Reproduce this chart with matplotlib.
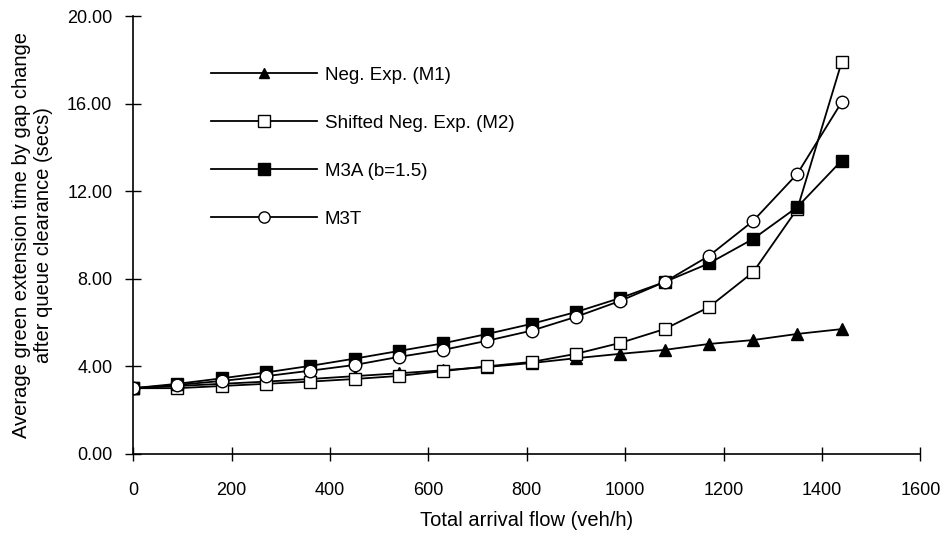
import numpy as np
import matplotlib
matplotlib.use("Agg")
import matplotlib.pyplot as plt
from matplotlib.ticker import FormatStrFormatter

plt.rcParams['font.family'] = ['Liberation Sans', 'DejaVu Sans']

# arrival flow (veh/h)
flow = [0, 90, 180, 270, 360, 450, 540, 630, 720, 810, 900, 990, 1080, 1170, 1260, 1350, 1440]

m1 = [3.0, 3.1, 3.2, 3.3, 3.42, 3.55, 3.68, 3.82, 3.97, 4.15, 4.37, 4.57, 4.75, 5.02, 5.2, 5.48, 5.7]
m2 = [3.0, 3.0, 3.1, 3.2, 3.3, 3.42, 3.56, 3.78, 4.0, 4.2, 4.57, 5.07, 5.7, 6.7, 8.3, 11.2, 17.9]
m3a = [3.0, 3.2, 3.45, 3.72, 4.02, 4.35, 4.7, 5.05, 5.48, 5.94, 6.48, 7.12, 7.85, 8.7, 9.82, 11.28, 13.4]
m3t = [3.0, 3.15, 3.33, 3.55, 3.8, 4.06, 4.43, 4.75, 5.17, 5.63, 6.26, 6.99, 7.85, 9.04, 10.64, 12.8, 16.07]

labels = ['Neg. Exp. (M1)', 'Shifted Neg. Exp. (M2)', 'M3A (b=1.5)', 'M3T']

fig = plt.figure(figsize=(9.44, 5.39), dpi=100)
ax = fig.add_axes([0.141, 0.158, 0.834, 0.812])

ax.plot(flow, m1, color='black', lw=1.3, marker='^', ms=8, mfc='black', mec='black', label=labels[0])
ax.plot(flow, m2, color='black', lw=1.3, marker='s', ms=9, mfc='white', mec='black', mew=1, label=labels[1])
ax.plot(flow, m3a, color='black', lw=1.3, marker='s', ms=9, mfc='black', mec='black', label=labels[2])
ax.plot(flow, m3t, color='black', lw=1.3, marker='o', ms=9, mfc='white', mec='black', mew=1, label=labels[3])

ax.set_xlim(0, 1600)
ax.set_ylim(0, 20)
ax.set_xticks(np.arange(0, 1601, 200))
ax.set_yticks(np.arange(0, 20.1, 4))
ax.yaxis.set_major_formatter(FormatStrFormatter('%.2f'))
ax.spines['top'].set_visible(False)
ax.spines['right'].set_visible(False)
ax.tick_params(direction='inout', width=1, labelsize=13)
ax.tick_params(axis='y', length=12, pad=9)
ax.tick_params(axis='x', length=10, pad=15)
for sp in ['left', 'bottom']:
    ax.spines[sp].set_linewidth(1.2)
ax.set_xlabel('Total arrival flow (veh/h)', fontsize=14.5, labelpad=9)
ax.set_ylabel('Average green extension time by gap change\nafter queue clearance (secs)',
              fontsize=14.5, labelpad=10)

ax.legend(loc='upper left', bbox_to_anchor=(0.077, 0.923), frameon=False, fontsize=13.5,
          handlelength=5.65, handletextpad=0.45, labelspacing=1.65, numpoints=1,
          markerscale=0.9)

fig.savefig('out.png', dpi=100)
